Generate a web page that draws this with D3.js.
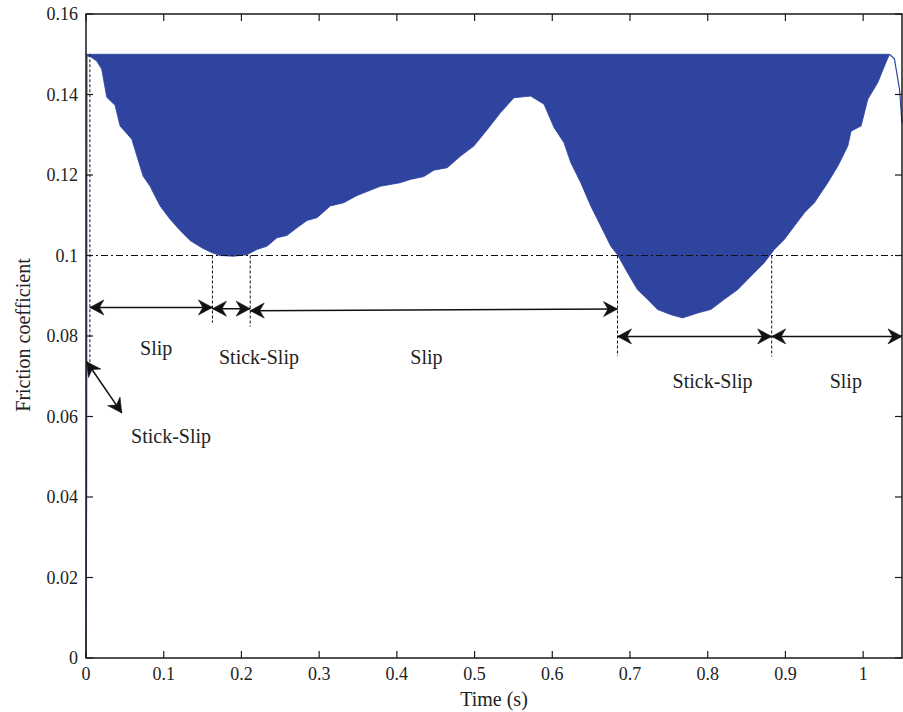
<!DOCTYPE html>
<html>
<head>
<meta charset="utf-8">
<script src="https://cdn.jsdelivr.net/npm/d3@7"></script>
<style>
  html, body { margin: 0; padding: 0; background: #fff; }
  svg { display: block; }
  text { font-family: "Liberation Serif", "Times New Roman", serif; fill: #222; }
</style>
</head>
<body>
<svg id="chart" width="903" height="712"></svg>
<script>
// ---------- data ----------
const xTicks = [0, 0.1, 0.2, 0.3, 0.4, 0.5, 0.6, 0.7, 0.8, 0.9, 1];
const yTicks = [0, 0.02, 0.04, 0.06, 0.08, 0.1, 0.12, 0.14, 0.16];
const xTickLabels = ["0", "0.1", "0.2", "0.3", "0.4", "0.5", "0.6", "0.7", "0.8", "0.9", "1"];
const yTickLabels = ["0", "0.02", "0.04", "0.06", "0.08", "0.1", "0.12", "0.14", "0.16"];

// oscillation upper bound
const upperLevel = 0.15;
// lower envelope of the oscillating friction coefficient
const envTime = [0.002, 0.005, 0.0138, 0.0202, 0.0267, 0.0374, 0.0438, 0.0589, 0.0735, 0.0825, 0.0863,
  0.0954, 0.1082, 0.1211, 0.1340, 0.1491, 0.1620, 0.1727, 0.1898, 0.2071, 0.2200, 0.2329, 0.2457,
  0.2586, 0.2715, 0.2844, 0.2973, 0.3144, 0.3316, 0.3488, 0.3789, 0.4046, 0.4175, 0.4347, 0.4476,
  0.4648, 0.4820, 0.4991, 0.5164, 0.5335, 0.5507, 0.5722, 0.5893, 0.6022, 0.6151, 0.6237, 0.6366,
  0.6495, 0.6624, 0.6753, 0.6839, 0.6968, 0.7097, 0.7226, 0.7354, 0.7526, 0.7677, 0.7870, 0.8041,
  0.8213, 0.8385, 0.8599, 0.8728, 0.8857, 0.8986, 0.9115, 0.9244, 0.9373, 0.9545, 0.9674, 0.9803,
  0.9845, 0.9974, 1.0060, 1.0189, 1.0275, 1.0339];
const envLower = [0.1495, 0.1495, 0.1483, 0.1463, 0.1393, 0.1373, 0.1322, 0.1289, 0.1197, 0.1172, 0.1157,
  0.1123, 0.1090, 0.1062, 0.1037, 0.1019, 0.1007, 0.1000, 0.0998, 0.1002, 0.1015, 0.1023, 0.1044,
  0.1050, 0.1069, 0.1087, 0.1094, 0.1123, 0.1131, 0.1149, 0.1172, 0.1181, 0.1189, 0.1196, 0.1212,
  0.1218, 0.1247, 0.1272, 0.1313, 0.1355, 0.1392, 0.1396, 0.1376, 0.1318, 0.1280, 0.1231, 0.1181,
  0.1123, 0.1073, 0.1023, 0.1002, 0.0957, 0.0915, 0.0891, 0.0866, 0.0853, 0.0845, 0.0857, 0.0866,
  0.0891, 0.0915, 0.0957, 0.0982, 0.1015, 0.1040, 0.1073, 0.1106, 0.1131, 0.1181, 0.1222, 0.1272,
  0.1309, 0.1322, 0.1388, 0.1430, 0.1471, 0.1500];
// start-up transient
const startTime = [0, 0.0008, 0.0012, 0.002];
const startValue = [0, 0.043, 0.15, 0.15];
// final decay after oscillation stops
const tailTime = [1.0339, 1.0403, 1.0468, 1.05];
const tailValue = [0.15, 0.1488, 0.1413, 0.133];

// annotations (data units)
const refLevel = 0.1;
const boundaryTime = [0.005, 0.1627, 0.2113, 0.6839, 0.8823];
const boundaryTop = [0.15, 0.1, 0.1, 0.1, 0.1];
const boundaryBottom = [0.0734, 0.0833, 0.0823, 0.0750, 0.0749];
const arrowT1 = [0.005, 0.1627, 0.2113, 0.6839, 0.8823, 0.0009];
const arrowV1 = [0.0871, 0.0868, 0.0863, 0.0799, 0.0799, 0.0736];
const arrowT2 = [0.1627, 0.2113, 0.6839, 0.8823, 1.05, 0.046];
const arrowV2 = [0.0871, 0.0868, 0.0867, 0.0799, 0.0799, 0.0609];
const regionLabels = ["Slip", "Stick-Slip", "Slip", "Stick-Slip", "Slip", "Stick-Slip"];
const labelTime = [0.0903, 0.2226, 0.4381, 0.8063, 0.9777, 0.1095];
const labelValue = [0.0753, 0.0731, 0.0731, 0.0672, 0.0672, 0.0535];

// ---------- layout ----------
const svg = d3.select("#chart");
const L = 86, R = 902, T = 14, B = 658;
const x = d3.scaleLinear().domain([0, 1.05]).range([L, R]);
const y = d3.scaleLinear().domain([0, 0.16]).range([B, T]);
const blue = "#2f449e";

// ---------- data marks ----------
const envData = envTime.map((t, i) => ({ t, lo: envLower[i] }));
svg.append("path")
  .datum(envData)
  .attr("d", d3.area().x(d => x(d.t)).y0(d => y(d.lo)).y1(() => y(upperLevel)))
  .attr("fill", blue)
  .attr("stroke", blue)
  .attr("stroke-width", 0.8);

const line = d3.line().x(d => x(d[0])).y(d => y(d[1]));
svg.append("path")
  .datum(startTime.map((t, i) => [t, startValue[i]]))
  .attr("d", line).attr("fill", "none").attr("stroke", blue).attr("stroke-width", 1.2);
svg.append("path")
  .datum(tailTime.map((t, i) => [t, tailValue[i]]))
  .attr("d", line).attr("fill", "none").attr("stroke", blue).attr("stroke-width", 1.2);

// ---------- annotations ----------
svg.append("line")
  .attr("x1", x(0)).attr("x2", x(1.05))
  .attr("y1", y(refLevel)).attr("y2", y(refLevel))
  .attr("stroke", "#111").attr("stroke-width", 1)
  .attr("stroke-dasharray", "7,3,2,3");

boundaryTime.forEach((t, i) => {
  svg.append("line")
    .attr("x1", x(t)).attr("x2", x(t))
    .attr("y1", y(boundaryTop[i])).attr("y2", y(boundaryBottom[i]))
    .attr("stroke", "#111").attr("stroke-width", 1)
    .attr("stroke-dasharray", "3,2");
});

// arrowhead polygon with tip at (0,0) pointing +x
const headLen = 14, headHalf = 7.5, notch = 4.5;
function drawHead(px, py, ang) {
  const pts = [[0, 0], [-headLen, -headHalf], [-headLen + notch, 0], [-headLen, headHalf]];
  const c = Math.cos(ang), s = Math.sin(ang);
  const d = "M" + pts.map(p => [px + p[0] * c - p[1] * s, py + p[0] * s + p[1] * c].join(",")).join("L") + "Z";
  svg.append("path").attr("d", d).attr("fill", "#111").attr("stroke", "#111").attr("stroke-width", 0.6);
}
arrowT1.forEach((t, i) => {
  const x1 = x(t), y1 = y(arrowV1[i]), x2 = x(arrowT2[i]), y2 = y(arrowV2[i]);
  svg.append("line")
    .attr("x1", x1).attr("y1", y1).attr("x2", x2).attr("y2", y2)
    .attr("stroke", "#111").attr("stroke-width", 1.5);
  const a = Math.atan2(y2 - y1, x2 - x1);
  drawHead(x2, y2, a);
  drawHead(x1, y1, a + Math.PI);
});

regionLabels.forEach((s, i) => {
  svg.append("text")
    .attr("x", x(labelTime[i])).attr("y", y(labelValue[i]))
    .attr("text-anchor", "middle")
    .attr("font-size", 20)
    .text(s);
});

// ---------- axes / frame ----------
const g = svg.append("g");
g.append("rect")
  .attr("x", L).attr("y", T).attr("width", R - L).attr("height", B - T)
  .attr("fill", "none").attr("stroke", "#1a1a1a").attr("stroke-width", 1.5);

const tl = 7;
xTicks.forEach((v, i) => {
  g.append("line").attr("x1", x(v)).attr("x2", x(v)).attr("y1", B).attr("y2", B - tl)
    .attr("stroke", "#1a1a1a").attr("stroke-width", 1.2);
  g.append("line").attr("x1", x(v)).attr("x2", x(v)).attr("y1", T).attr("y2", T + tl)
    .attr("stroke", "#1a1a1a").attr("stroke-width", 1.2);
  g.append("text").attr("x", x(v)).attr("y", B + 22)
    .attr("text-anchor", "middle").attr("font-size", 18).text(xTickLabels[i]);
});
yTicks.forEach((v, i) => {
  g.append("line").attr("x1", L).attr("x2", L + tl).attr("y1", y(v)).attr("y2", y(v))
    .attr("stroke", "#1a1a1a").attr("stroke-width", 1.2);
  g.append("line").attr("x1", R).attr("x2", R - tl).attr("y1", y(v)).attr("y2", y(v))
    .attr("stroke", "#1a1a1a").attr("stroke-width", 1.2);
  g.append("text").attr("x", L - 8).attr("y", y(v) + 6)
    .attr("text-anchor", "end").attr("font-size", 18).text(yTickLabels[i]);
});

svg.append("text")
  .attr("x", 494).attr("y", 706)
  .attr("text-anchor", "middle").attr("font-size", 20)
  .text("Time (s)");
svg.append("text")
  .attr("transform", "translate(30,335) rotate(-90)")
  .attr("text-anchor", "middle").attr("font-size", 20)
  .text("Friction coefficient");
</script>
</body>
</html>
